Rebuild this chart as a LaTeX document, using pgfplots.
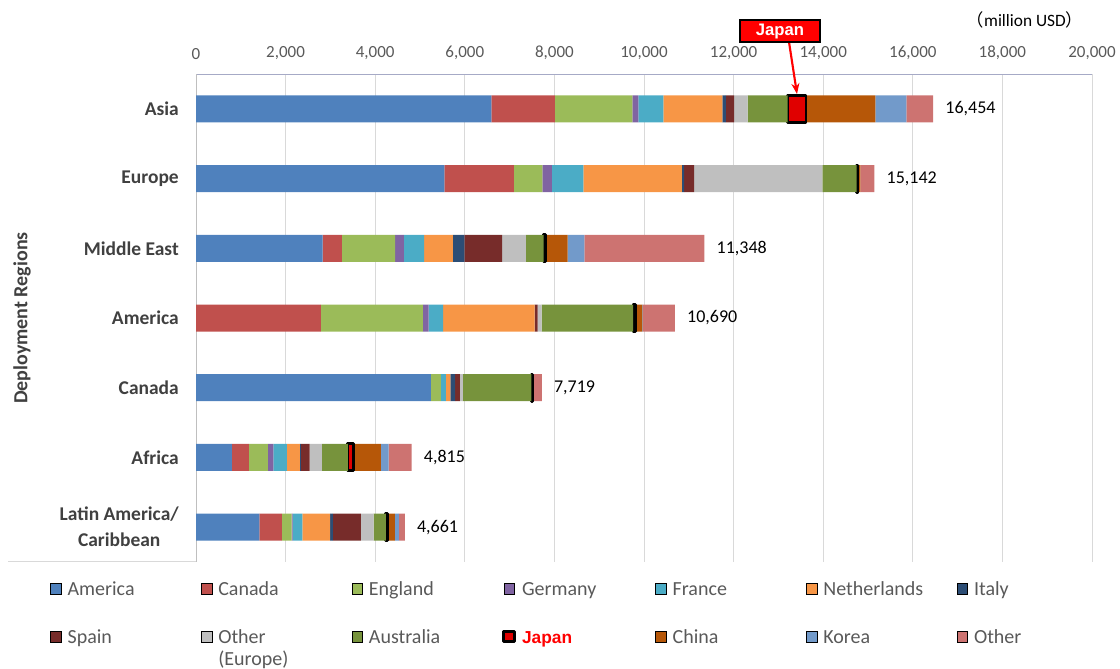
\documentclass[border=0pt]{standalone}
\usepackage{fontspec}
\setmainfont{Carlito}
\newfontfamily\arialfont{Liberation Sans}
\newfontfamily\cjk{Noto Sans CJK JP}
\usepackage{pgfplots}
\pgfplotsset{compat=1.18}
\usetikzlibrary{arrows.meta}
\definecolor{cAmerica}{HTML}{4F81BD}
\definecolor{cCanada}{HTML}{C0504D}
\definecolor{cEngland}{HTML}{9BBB59}
\definecolor{cGermany}{HTML}{8064A2}
\definecolor{cFrance}{HTML}{4BACC6}
\definecolor{cNether}{HTML}{F79646}
\definecolor{cItaly}{HTML}{2C4D75}
\definecolor{cSpain}{HTML}{772C2A}
\definecolor{cOthEu}{HTML}{BFBFBF}
\definecolor{cAustr}{HTML}{77933C}
\definecolor{cJapan}{HTML}{E00000}
\definecolor{cChina}{HTML}{B65708}
\definecolor{cKorea}{HTML}{729ACA}
\definecolor{cOther}{HTML}{CD7371}
\definecolor{gridgray}{HTML}{D9D9D9}
\definecolor{axgray}{HTML}{BFBFBF}
\definecolor{topline}{HTML}{A6AAC6}
\definecolor{tickgray}{HTML}{595959}
\definecolor{labgray}{HTML}{404040}
\pgfplotsset{sqleg/.style={legend image code/.code={\draw[##1] (0pt,0.8pt) rectangle (8pt,8.8pt);}}}
\begin{document}
\begin{tikzpicture}
\path[use as bounding box] (0,0) rectangle (840pt,-501pt);
\begin{axis}[
  at={(147pt,-55.5pt)}, anchor=north west,
  scale only axis, width=672pt, height=366pt,
  xbar stacked, bar width=20.25pt,
  xmin=0, xmax=20000, ymin=-0.5, ymax=6.5, y dir=reverse,
  scaled x ticks=false,
  xtick={0,2000,...,20000}, xticklabel pos=upper,
  ytick={0,...,6},
  yticklabels={Asia,Europe,Middle East,America,Canada,Africa,{Latin America/\\Caribbean}},
  major tick length=0pt,
  xmajorgrids, grid style={draw=gridgray, line width=0.75pt},
  axis line style={draw=none},
  /pgf/number format/1000 sep={,},
  /pgf/number format/assume math mode=true,
  xticklabel style={font=\fontsize{12.75}{14}\selectfont, text=tickgray, yshift=7.5pt},
  yticklabel style={font=\bfseries\fontsize{14.6}{19.5}\selectfont, text=labgray, align=center, xshift=-9.4pt},
  every axis plot post/.append style={sqleg},
  legend columns=7,
  legend style={at={(axis description cs:-0.1629,-0.0389)}, anchor=north west,
    draw=none, fill=none, inner sep=0pt, row sep=24pt,
    cells={anchor=base west},
    nodes={text width=100pt, align=left, inner sep=0pt, font=\fontsize{15}{16.5}\selectfont, text=tickgray},
    /tikz/every odd column/.append style={column sep=4.6pt},
    /tikz/every even column/.append style={column sep=0pt}},
]
\addplot[fill=cAmerica, draw=none] coordinates {(6592,0) (5543,1) (2826,2) (0,3) (5242,4) (803,5) (1413,6)};
\addlegendentry{America}
\addplot[fill=cCanada, draw=none] coordinates {(1421,0) (1555,1) (431,2) (2788,3) (0,4) (379,5) (505,6)};
\addlegendentry{Canada}
\addplot[fill=cEngland, draw=none] coordinates {(1727,0) (632,1) (1190,2) (2275,3) (223,4) (424,5) (216,6)};
\addlegendentry{England}
\addplot[fill=cGermany, draw=none] coordinates {(134,0) (216,1) (192,2) (127,3) (0,4) (119,5) (22,6)};
\addlegendentry{Germany}
\addplot[fill=cFrance, draw=none] coordinates {(557,0) (700,1) (455,2) (327,3) (111,4) (305,5) (216,6)};
\addlegendentry{France}
\addplot[fill=cNether, draw=none] coordinates {(1317,0) (2202,1) (639,2) (2044,3) (104,4) (290,5) (624,6)};
\addlegendentry{Netherlands}
\addplot[fill=cItaly, draw=none] coordinates {(82,0) (45,1) (255,2) (0,3) (104,4) (22,5) (60,6)};
\addlegendentry{Italy}
\addplot[fill=cSpain, draw=none] coordinates {(179,0) (223,1) (846,2) (67,3) (104,4) (193,5) (624,6)};
\addlegendentry{Spain}
\addplot[fill=cOthEu, draw=none] coordinates {(305,0) (2864,1) (527,2) (89,3) (67,4) (275,5) (283,6)};
\addlegendentry{Other\\(Europe)}
\addplot[fill=cAustr, draw=none] coordinates {(893,0) (767,1) (399,2) (2038,3) (1532,4) (580,5) (275,6)};
\addlegendentry{Australia}
\addplot[fill=cJapan, draw=black, line width=2.2pt, line join=round] coordinates {(409,0) (30,1) (50,2) (50,3) (30,4) (120,5) (30,6)};
\addlegendentry{\arialfont\bfseries\fontsize{13}{15}\selectfont\textcolor{red}{Japan}}
\addplot[fill=cChina, draw=none] coordinates {(1548,0) (50,1) (485,2) (158,3) (0,4) (616,5) (170,6)};
\addlegendentry{China}
\addplot[fill=cKorea, draw=none] coordinates {(691,0) (0,1) (376,2) (10,3) (0,4) (171,5) (89,6)};
\addlegendentry{Korea}
\addplot[fill=cOther, draw=none] coordinates {(599,0) (315,1) (2677,2) (717,3) (202,4) (518,5) (134,6)};
\addlegendentry{Other}
\draw[axgray, line width=0.75pt] (axis cs:0,-0.5) -- (axis cs:0,6.5);
\draw[topline, line width=2.2pt] (axis cs:0,-0.5) -- (axis cs:20000,-0.5);
\end{axis}
\begin{axis}[
  at={(147pt,-55.5pt)}, anchor=north west,
  scale only axis, width=672pt, height=366pt,
  xmin=0, xmax=20000, ymin=-0.5, ymax=6.5, y dir=reverse,
  hide axis, clip=false,
  /pgf/number format/1000 sep={,},
  /pgf/number format/assume math mode=true,
]
\addplot[draw=none, mark=none, point meta=x, nodes near coords,
  nodes near coords align=horizontal,
  every node near coord/.append style={anchor=west, inner sep=0pt, xshift=9pt, font=\fontsize{13.5}{15}\selectfont, text=black}]
  coordinates {(16454,0) (15142,1) (11348,2) (10690,3) (7719,4) (4815,5) (4661,6)};
\end{axis}
\begin{scope}[x=0.75pt,y=-0.75pt]
\draw[gridgray, line width=0.75pt] (8,561) -- (196,561);
\node[rotate=90, font=\bfseries\fontsize{15}{18}\selectfont, text=labgray] at (22,318) {Deployment Regions};
\node[font=\fontsize{13}{15}\selectfont, text=black] at (1025,20) {{\cjk （}million USD{\cjk ）}};
\draw[red, line width=1.6pt, -{Stealth[length=8pt,width=6pt]}] (789,42) -- (797,94);
\node[fill=red, draw=black, line width=1.5pt, minimum width=60pt, minimum height=16pt, inner sep=0pt,
  font=\arialfont\bfseries\fontsize{12.5}{14}\selectfont, text=white] at (780,31) {Japan};
\end{scope}
\end{tikzpicture}
\end{document}
